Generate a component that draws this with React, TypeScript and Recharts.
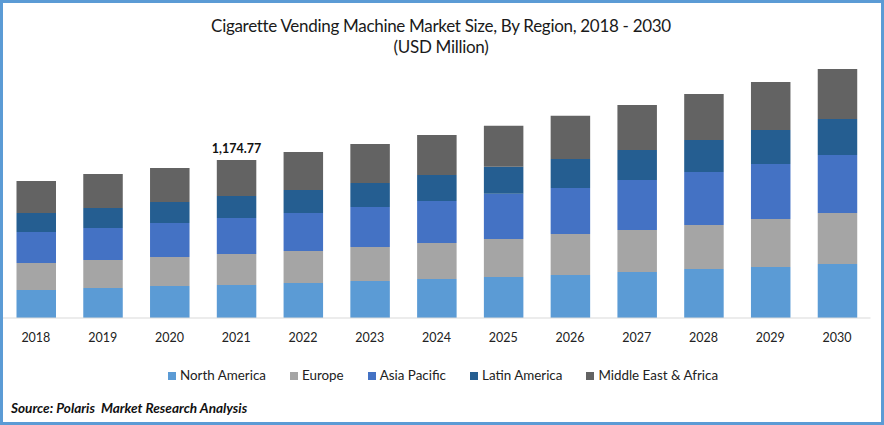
import { BarChart, Bar, XAxis, YAxis, Legend, LabelList } from 'recharts'

const years = ['2018', '2019', '2020', '2021', '2022', '2023', '2024', '2025', '2026', '2027', '2028', '2029', '2030']
const northAmerica = [208, 223, 238, 245, 260, 275, 290, 305, 320, 342, 364, 379, 401]
const europe = [201, 208, 216, 230, 238, 253, 268, 283, 305, 312, 327, 357, 379]
const asiaPacific = [230, 238, 253, 268, 283, 297, 312, 335, 342, 372, 394, 409, 431]
const latinAmerica = [141, 149, 156, 164, 171, 178, 193, 201, 216, 223, 238, 253, 268]
const middleEast = [238, 253, 253, 268, 283, 290, 297, 305, 320, 335, 342, 357, 372]
const totalLabels = ['', '', '', '1,174.77', '', '', '', '', '', '', '', '', '']

const data = years.map((year, i) => ({
  year,
  na: northAmerica[i],
  eu: europe[i],
  ap: asiaPacific[i],
  la: latinAmerica[i],
  me: middleEast[i],
  label: totalLabels[i],
}))

const font = 'Lato, sans-serif'

const legendText = (value: string) => (
  <span style={{ color: '#222', fontSize: 13.4, fontFamily: font, marginRight: 14 }}>{value}</span>
)

export default function App() {
  return (
    <div style={{ position: 'absolute', left: 0, top: 0, width: 884, height: 425, boxSizing: 'border-box', border: '3px solid #5b9bd5', background: '#fff', overflow: 'hidden' }}>
      <div style={{ position: 'absolute', left: -4, top: 12, width: 884, textAlign: 'center', fontFamily: font, fontSize: 17, letterSpacing: -0.3, lineHeight: '21px', color: '#1a1a1a' }}>
        Cigarette Vending Machine Market Size, By Region, 2018 - 2030
        <br />
        (USD Million)
      </div>
      <div style={{ position: 'absolute', left: 8, top: 397, fontFamily: font, fontSize: 13.6, fontWeight: 700, fontStyle: 'italic', color: '#111', whiteSpace: 'pre' }}>
        Source: Polaris  Market Research Analysis
      </div>
      <div style={{ position: 'absolute', left: -3, top: -3 }}>
        <BarChart width={884} height={400} data={data} margin={{ top: 49, right: 13.5, bottom: 34, left: 2.5 }} barSize={39.5}>
          <XAxis
            dataKey="year"
            interval={0}
            tickLine={false}
            axisLine={{ stroke: '#d9d9d9' }}
            tick={{ fill: '#222', fontSize: 12.5, fontFamily: font }}
            tickMargin={9}
          />
          <YAxis hide domain={[0, 2000]} />
          <Legend
            iconType="square"
            iconSize={8}
            itemSorter={null}
            formatter={legendText}
            wrapperStyle={{ position: 'absolute', left: 168, top: 366, width: 'auto', textAlign: 'left', whiteSpace: 'nowrap' }}
          />
          <Bar dataKey="na" name="North America" stackId="a" fill="#5b9bd5" isAnimationActive={false} />
          <Bar dataKey="eu" name="Europe" stackId="a" fill="#a5a5a5" isAnimationActive={false} />
          <Bar dataKey="ap" name="Asia Pacific" stackId="a" fill="#4472c4" isAnimationActive={false} />
          <Bar dataKey="la" name="Latin America" stackId="a" fill="#255e91" isAnimationActive={false} />
          <Bar dataKey="me" name="Middle East & Africa" stackId="a" fill="#636363" isAnimationActive={false}>
            <LabelList dataKey="label" position="top" offset={7} fill="#111" fontSize={12.5} fontWeight={700} fontFamily={font} />
          </Bar>
        </BarChart>
      </div>
    </div>
  )
}
